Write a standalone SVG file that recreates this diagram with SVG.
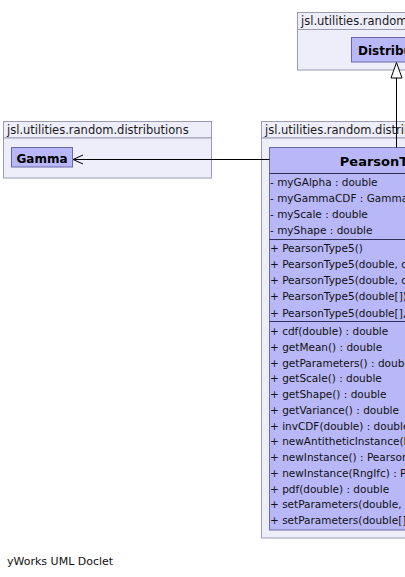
<svg xmlns="http://www.w3.org/2000/svg" width="405" height="577" viewBox="0 0 405 577">
<style>
.pkg{fill:#eeeefa;stroke:#9a9ab4;stroke-width:1}
.cls{fill:#b8b8f8;stroke:#6a6aa8;stroke-width:1}
.div{stroke:#30305a;stroke-width:1}
.plbl{font-family:"DejaVu Sans",sans-serif;font-size:11.5px;fill:#1a1a1a}
.cname{font-family:"DejaVu Sans",sans-serif;font-size:12px;font-weight:bold;fill:#000}
.title{font-family:"DejaVu Sans",sans-serif;font-size:13px;font-weight:bold;fill:#000}
.mem{font-family:"DejaVu Sans",sans-serif;font-size:10.5px;fill:#111}
.edge{stroke:#000;stroke-width:1;fill:none}
.foot{font-family:"DejaVu Sans",sans-serif;font-size:11px;fill:#111}
</style>
<g id="pkg-top">
<rect class="pkg" x="297.5" y="12.5" width="130" height="17"/>
<rect class="pkg" x="297.5" y="29.5" width="130" height="40.5"/>
<text class="plbl" x="301" y="25">jsl.utilities.random</text>
</g>
<g id="Distribution">
<rect class="cls" x="351.5" y="37.5" width="90" height="24.5"/>
<text class="cname" x="358" y="54.5">Distribution</text>
</g>
<g id="pkg-gamma">
<rect class="pkg" x="3.5" y="121.5" width="208" height="16.5"/>
<rect class="pkg" x="3.5" y="138" width="208" height="40"/>
<text class="plbl" x="7" y="134">jsl.utilities.random.distributions</text>
</g>
<g id="Gamma">
<rect class="cls" x="11.5" y="147.5" width="61" height="19.5"/>
<text class="cname" x="42" y="163" text-anchor="middle">Gamma</text>
</g>
<g id="pkg-pearson">
<rect class="pkg" x="261.5" y="121.5" width="208" height="16.5"/>
<rect class="pkg" x="261.5" y="138" width="260" height="400"/>
<text class="plbl" x="265" y="134">jsl.utilities.random.distributions</text>
</g>
<g id="PearsonType5">
<rect class="cls" x="269.5" y="147.5" width="244" height="382.5"/>
<text class="title" x="391" y="165.5" text-anchor="middle">PearsonType5</text>
<line class="div" x1="269.5" y1="173.5" x2="513.5" y2="173.5"/>
<text class="mem" x="270" y="185.5">- myGAlpha : double</text>
<text class="mem" x="270" y="201.75">- myGammaCDF : GammaCDF</text>
<text class="mem" x="270" y="218">- myScale : double</text>
<text class="mem" x="270" y="234.25">- myShape : double</text>
<line class="div" x1="269.5" y1="239.5" x2="513.5" y2="239.5"/>
<text class="mem" x="270" y="251.5">+ PearsonType5()</text>
<text class="mem" x="270" y="267.75">+ PearsonType5(double, double)</text>
<text class="mem" x="270" y="284">+ PearsonType5(double, double, int)</text>
<text class="mem" x="270" y="300.25">+ PearsonType5(double[])</text>
<text class="mem" x="270" y="316.5">+ PearsonType5(double[], int)</text>
<line class="div" x1="269.5" y1="321.5" x2="513.5" y2="321.5"/>
<text class="mem" x="270" y="335">+ cdf(double) : double</text>
<text class="mem" x="270" y="350.75">+ getMean() : double</text>
<text class="mem" x="270" y="366.5">+ getParameters() : double[]</text>
<text class="mem" x="270" y="382.25">+ getScale() : double</text>
<text class="mem" x="270" y="398">+ getShape() : double</text>
<text class="mem" x="270" y="413.75">+ getVariance() : double</text>
<text class="mem" x="270" y="429.5">+ invCDF(double) : double</text>
<text class="mem" x="270" y="445.25">+ newAntitheticInstance(RngIfc)</text>
<text class="mem" x="270" y="461">+ newInstance() : PearsonType5</text>
<text class="mem" x="270" y="476.75">+ newInstance(RngIfc) : PearsonType5</text>
<text class="mem" x="270" y="492.5">+ pdf(double) : double</text>
<text class="mem" x="270" y="508.25">+ setParameters(double, double)</text>
<text class="mem" x="270" y="524">+ setParameters(double[])</text>
</g>
<g id="connectors">
<line class="edge" x1="396.5" y1="147.5" x2="396.5" y2="78"/>
<polygon points="396.5,62.5 391,78 402,78" fill="#fff" stroke="#000" stroke-width="1"/>
<line class="edge" x1="269.5" y1="159.5" x2="73" y2="159.5"/>
<polyline class="edge" points="83,155 73,159.5 83,164"/>
</g>
<text class="foot" x="7" y="565">yWorks UML Doclet</text>
</svg>
